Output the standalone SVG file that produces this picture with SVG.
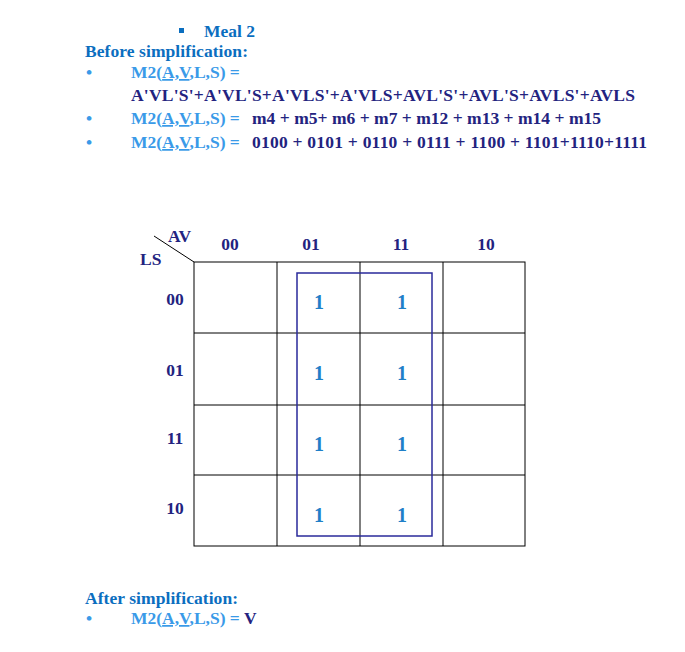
<svg xmlns="http://www.w3.org/2000/svg" width="685" height="652" viewBox="0 0 685 652">
<style>
text{font-family:"Liberation Serif",serif;font-weight:bold;font-size:17.5px}
.h{fill:#0B6EBF}.m{fill:#3A9AE8}.d{fill:#23237F}.o{fill:#1F7FC8;font-size:20px}
.g{stroke:#000;stroke-width:1;fill:none}
</style>
<rect width="685" height="652" fill="#fff"/>
<g id="text">
<rect x="179" y="28" width="5" height="5" fill="#0B6EBF"/>
<text x="204" y="37" class="h">Meal 2</text>
<text x="85" y="57" class="h" textLength="163">Before simplification:</text>
<text x="86" y="78" class="m">•</text>
<text x="131" y="78" class="m">M2(<tspan text-decoration="underline">A,V</tspan>,L,S) =</text>
<text x="131" y="101" class="d" textLength="504">A'VL'S'+A'VL'S+A'VLS'+A'VLS+AVL'S'+AVL'S+AVLS'+AVLS</text>
<text x="86" y="124" class="m">•</text>
<text x="131" y="124" class="m">M2(<tspan text-decoration="underline">A,V</tspan>,L,S) =</text>
<text x="252" y="124" class="d" textLength="349">m4 + m5+ m6 + m7 + m12 + m13 + m14 + m15</text>
<text x="86" y="148" class="m">•</text>
<text x="131" y="148" class="m">M2(<tspan text-decoration="underline">A,V</tspan>,L,S) =</text>
<text x="252" y="148" class="d" textLength="395">0100 + 0101 + 0110 + 0111 + 1100 + 1101+1110+1111</text>
<text x="85" y="604" class="h" textLength="153">After simplification:</text>
<text x="86" y="624" class="m">•</text>
<text x="131" y="624" class="m">M2(<tspan text-decoration="underline">A,V</tspan>,L,S) = <tspan class="d">V</tspan></text>
</g>
<g id="kmap">
<line x1="154" y1="236" x2="194" y2="262" stroke="#000"/>
<text x="168" y="242" class="d">AV</text>
<text x="140" y="265" class="d">LS</text>
<text x="230" y="250" class="d" text-anchor="middle">00</text>
<text x="311" y="250" class="d" text-anchor="middle">01</text>
<text x="401" y="250" class="d" text-anchor="middle">11</text>
<text x="486" y="250" class="d" text-anchor="middle">10</text>
<text x="175" y="305" class="d" text-anchor="middle">00</text>
<text x="175" y="376" class="d" text-anchor="middle">01</text>
<text x="175" y="444" class="d" text-anchor="middle">11</text>
<text x="175" y="514" class="d" text-anchor="middle">10</text>
<rect x="194" y="262" width="331" height="284" class="g"/>
<path d="M277 262V546M360 262V546M443 262V546M194 333H525M194 405H525M194 475H525" class="g"/>
<g text-anchor="middle">
<text x="319" y="309" class="o">1</text><text x="402" y="309" class="o">1</text>
<text x="319" y="380" class="o">1</text><text x="402" y="380" class="o">1</text>
<text x="319" y="451" class="o">1</text><text x="402" y="451" class="o">1</text>
<text x="319" y="522" class="o">1</text><text x="402" y="522" class="o">1</text>
</g>
<rect x="297" y="273" width="135" height="263" fill="none" stroke="#2A2A9A" stroke-width="1.5"/>
</g>
</svg>
